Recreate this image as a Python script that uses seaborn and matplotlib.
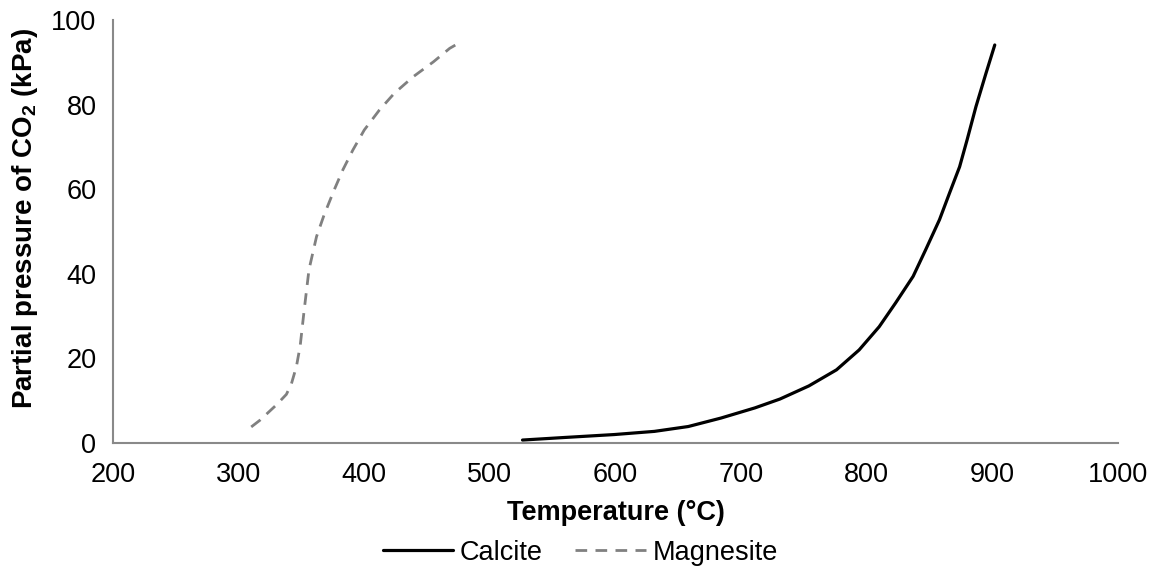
import numpy as np
import pandas as pd
import matplotlib
matplotlib.use("Agg")
import matplotlib.pyplot as plt
import seaborn as sns

# values
calcite_T = [526, 559, 599, 631, 658, 684, 711, 731, 754, 776, 794, 810, 823,
             837, 847, 858, 866, 874, 880, 887, 895, 902]
calcite_P = [0.7, 1.3, 2.0, 2.75, 3.9, 5.9, 8.3, 10.4, 13.5, 17.3, 22.0, 27.5, 33.1,
             39.4, 45.7, 52.8, 59.1, 65.3, 71.7, 79.5, 87.4, 94.1]

magnesite_T = [310, 317, 330, 338, 342, 346, 349, 352, 356, 362, 368, 376, 383,
               391, 400, 412, 424, 439, 455, 468, 475]
magnesite_P = [3.8, 5.4, 9.0, 11.5, 14.0, 18.1, 23.0, 31.0, 41.0, 48.8, 53.9, 59.8, 64.6,
               69.3, 74.0, 78.7, 82.7, 86.6, 90.1, 93.3, 94.5]

x_ticks = [200, 300, 400, 500, 600, 700, 800, 900, 1000]
y_ticks = [0, 20, 40, 60, 80, 100]

calcite = pd.DataFrame({"T": calcite_T, "P": calcite_P})
magnesite = pd.DataFrame({"T": magnesite_T, "P": magnesite_P})

sns.set_style("white")
plt.rcParams["font.family"] = ["Liberation Sans", "DejaVu Sans"]
plt.rcParams["mathtext.fontset"] = "custom"
plt.rcParams["mathtext.rm"] = "Liberation Sans:bold"
plt.rcParams["lines.solid_joinstyle"] = "round"
plt.rcParams["text.color"] = "black"
plt.rcParams["axes.labelcolor"] = "black"

grey = "#898989"
fs = 19.5

fig, ax = plt.subplots(figsize=(11.56, 5.72), dpi=100)
fig.subplots_adjust(left=0.0978, right=0.967, top=0.965, bottom=0.2255)

sns.lineplot(data=calcite, x="T", y="P", ax=ax, color="black", lw=2.3,
             sort=False, estimator=None, label="Calcite")
sns.lineplot(data=magnesite, x="T", y="P", ax=ax, color="#808080", lw=2.0,
             sort=False, estimator=None, label="Magnesite")
ax.lines[1].set_dashes((4.2, 3.0))

ax.set_xlim(200, 1000)
ax.set_ylim(0, 100)
ax.set_xticks(x_ticks)
ax.set_yticks(y_ticks)
ax.tick_params(axis="both", labelsize=fs, color=grey, length=6, width=1.3,
               direction="out", pad=6, labelcolor="black")
ax.tick_params(axis="x", pad=8)

for s in ["top", "right"]:
    ax.spines[s].set_visible(False)
for s in ["left", "bottom"]:
    ax.spines[s].set_color(grey)
    ax.spines[s].set_linewidth(1.5)

ax.set_xlabel("Temperature (°C)", fontsize=fs, fontweight="bold", labelpad=8)
ax.set_ylabel(r"Partial pressure of CO$_\mathrm{2}$ (kPa)", fontsize=20,
              fontweight="bold")
ax.yaxis.set_label_coords(-0.073, 0.53)

ax.legend(loc="center", bbox_to_anchor=(0.502, 0.034), bbox_transform=fig.transFigure,
          ncol=2, frameon=False, fontsize=fs, handlelength=2.6, handletextpad=0.25,
          columnspacing=1.2)

plt.savefig("out.png", dpi=100)
